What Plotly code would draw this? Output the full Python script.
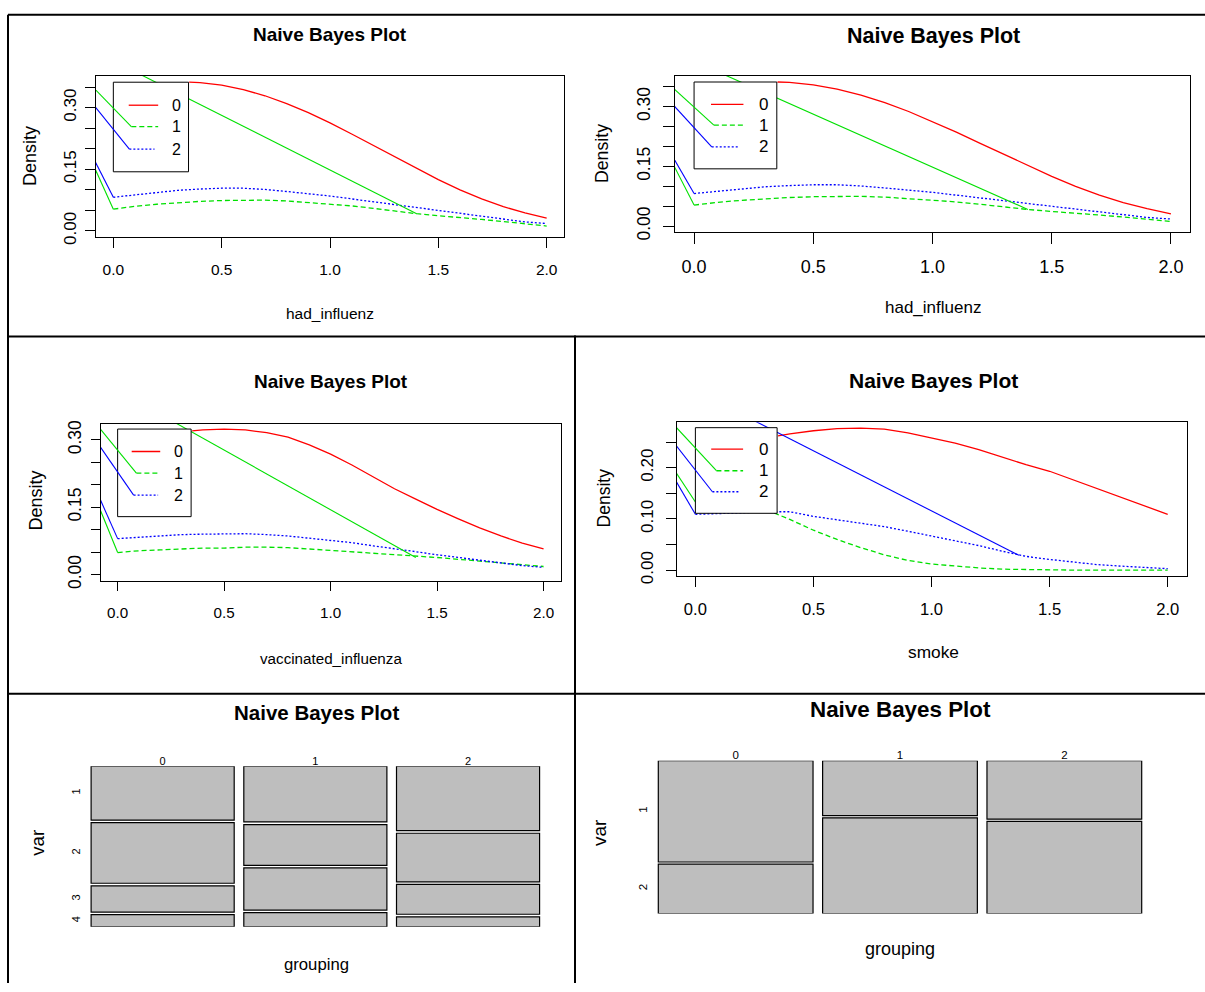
import plotly.graph_objects as go

W, H = 1205, 992
FONT = "Liberation Sans, Arial, Helvetica, sans-serif"

# ---------------- data ----------------
class_labels = ["0", "1", "2"]
class_colors = ["#FF0000", "#00E000", "#0000FF"]
class_dashes = ["solid", "5px,3px", "2px,2px"]

x_ticks = [0.0, 0.5, 1.0, 1.5, 2.0]
x_tick_text = ["0.0", "0.5", "1.0", "1.5", "2.0"]

# x positions where the class-0 curve is visible (right of the legend)
x_red = [0.35, 0.4, 0.5, 0.6, 0.7, 0.8, 0.9, 1.0, 1.1, 1.2, 1.3, 1.4, 1.5, 1.6, 1.7, 1.8, 1.9, 2.0]
# x positions of class-1 / class-2 curves
x_grid = [0.0, 0.1, 0.2, 0.3, 0.4, 0.5, 0.6, 0.7, 0.8, 0.9, 1.0,
          1.1, 1.2, 1.3, 1.4, 1.5, 1.6, 1.7, 1.8, 1.9, 2.0]

# had_influenz densities
infl_red = [0.362, 0.361, 0.355, 0.344, 0.329, 0.310, 0.288, 0.263, 0.236, 0.208,
            0.180, 0.152, 0.125, 0.100, 0.078, 0.059, 0.044, 0.031]
infl_green = [0.053, 0.060, 0.065, 0.069, 0.072, 0.074, 0.075, 0.075, 0.073, 0.069, 0.066,
              0.061, 0.055, 0.048, 0.042, 0.037, 0.033, 0.028, 0.023, 0.018, 0.012]
infl_blue = [0.082, 0.088, 0.094, 0.099, 0.102, 0.104, 0.104, 0.101, 0.096, 0.091, 0.085,
             0.078, 0.071, 0.064, 0.057, 0.049, 0.042, 0.035, 0.028, 0.022, 0.018]

# vaccinated_influenza densities
vacc_red = [0.320, 0.322, 0.324, 0.322, 0.316, 0.306, 0.289, 0.268, 0.244, 0.218,
            0.191, 0.168, 0.145, 0.124, 0.104, 0.086, 0.070, 0.057]
vacc_green = [0.049, 0.053, 0.055, 0.057, 0.059, 0.059, 0.061, 0.061, 0.060, 0.057, 0.054,
              0.051, 0.048, 0.045, 0.042, 0.038, 0.034, 0.030, 0.026, 0.022, 0.018]
vacc_blue = [0.080, 0.083, 0.086, 0.089, 0.090, 0.091, 0.091, 0.089, 0.086, 0.081, 0.076,
             0.071, 0.064, 0.058, 0.051, 0.044, 0.038, 0.031, 0.025, 0.020, 0.016]

# smoke densities
smoke_red = [0.262, 0.266, 0.272, 0.276, 0.277, 0.275, 0.268, 0.258, 0.248, 0.235,
             0.220, 0.206, 0.193, 0.176, 0.159, 0.142, 0.125, 0.109]
smoke_green = [0.133, 0.132, 0.128, 0.118, 0.099, 0.078, 0.060, 0.044, 0.030, 0.019, 0.012,
               0.008, 0.0045, 0.002, 0.001, 0.0005, 0.0002, 0.0, 0.0, 0.0, 0.0]
smoke_blue = [0.109, 0.110, 0.112, 0.114, 0.114, 0.105, 0.098, 0.092, 0.085, 0.076, 0.067,
              0.057, 0.048, 0.037, 0.027, 0.021, 0.016, 0.011, 0.008, 0.005, 0.003]

# stray solid connector lines drawn under the legend box (x pairs, y pairs, class index)
infl_links_under = [([-0.09, 0.0], [0.158, 0.053], 1), ([0.0, 1.40], [0.414, 0.042], 1),
                    ([-0.09, 0.0], [0.175, 0.082], 2)]
vacc_links_under = [([-0.09, 0.0], [0.154, 0.049], 1), ([0.0, 1.40], [0.410, 0.038], 1),
                    ([-0.09, 0.0], [0.176, 0.080], 2)]
smoke_links_under = [([-0.09, 0.0], [0.196, 0.133], 1), ([-0.09, 0.0], [0.180, 0.109], 2),
                     ([0.0, 1.37], [0.350, 0.029], 2)]
# stray solid lines ending at the legend keys (start point, class index)
infl_links_over = [((-0.09, 0.348), 1), ((-0.09, 0.306), 2)]
vacc_links_over = [((-0.09, 0.329), 1), ((-0.09, 0.290), 2)]
smoke_links_over = [((-0.09, 0.283), 1), ((-0.09, 0.248), 2)]

# mosaic plots: share of each level within each group
mosA_levels = ["1", "2", "3", "4"]
mosA_g0 = [0.353, 0.396, 0.172, 0.079]
mosA_g1 = [0.365, 0.267, 0.276, 0.092]
mosA_g2 = [0.422, 0.318, 0.195, 0.065]
mosB_levels = ["1", "2"]
mosB_g0 = [0.672, 0.328]
mosB_g1 = [0.365, 0.635]
mosB_g2 = [0.388, 0.612]

# ---------------- helpers ----------------
fig = go.Figure()
annotations = []


def ids(i):
    return ("x" if i == 1 else f"x{i}", "y" if i == 1 else f"y{i}")


def keys(i):
    return ("xaxis" if i == 1 else f"xaxis{i}", "yaxis" if i == 1 else f"yaxis{i}")


def text(xp, yp, s, size, bold=False, angle=0):
    annotations.append(dict(
        x=xp / W, y=1 - yp / H, xref="paper", yref="paper", text=f"<b>{s}</b>" if bold else s,
        showarrow=False, xanchor="center", yanchor="middle", textangle=angle,
        font=dict(family=FONT, size=size, color="black")))


def line_trace(i, xs, ys, color, dash="solid", width=1.3):
    xa, ya = ids(i)
    fig.add_trace(go.Scatter(x=xs, y=ys, mode="lines", xaxis=xa, yaxis=ya,
                             line=dict(color=color, width=width, dash=dash),
                             showlegend=False, hoverinfo="skip"))


def density_panel(i, st, curves, under, over, leg, ytv, ytt):
    xa, ya = ids(i)
    kx, ky = keys(i)
    red, green, blue = curves
    line_trace(i, x_red, red, class_colors[0], class_dashes[0])
    line_trace(i, x_grid, green, class_colors[1], class_dashes[1])
    line_trace(i, x_grid, blue, class_colors[2], class_dashes[2])
    for xs, ys, c in under:
        line_trace(i, xs, ys, class_colors[c], "solid", 1.1)
    # legend box
    x0, x1, y0, y1 = leg["box"]
    fig.add_trace(go.Scatter(x=[x0, x1, x1, x0, x0], y=[y0, y0, y1, y1, y0], mode="lines",
                             fill="toself", fillcolor="white", xaxis=xa, yaxis=ya,
                             line=dict(color="black", width=1), showlegend=False, hoverinfo="skip"))
    for k in range(3):
        line_trace(i, [leg["sx0"][k], leg["sx1"][k]], [leg["sy"][k]] * 2,
                   class_colors[k], class_dashes[k], 1.3)
        annotations.append(dict(x=leg["lx"], y=leg["sy"][k], xref=xa, yref=ya, text=class_labels[k],
                                showarrow=False, xanchor="center", yanchor="middle",
                                font=dict(family=FONT, size=st["leg"], color="black")))
    for (sx, sy), c in over:
        line_trace(i, [sx, leg["sx0"][c]], [sy, leg["sy"][c]], class_colors[c], "solid", 1.1)

    bx0, bx1, by0, by1 = st["box"]
    fig.layout[kx] = dict(
        domain=[bx0 / W, bx1 / W], range=st["xr"], anchor=ya, showgrid=False, zeroline=False,
        showline=True, mirror=True, linecolor="black", linewidth=1,
        ticks="outside", ticklen=st["tl"], tickwidth=1, tickcolor="black",
        tickmode="array", tickvals=x_ticks, ticktext=x_tick_text,
        tickfont=dict(family=FONT, size=st["xt"], color="black"), ticklabelstandoff=st["xso"])
    fig.layout[ky] = dict(
        domain=[1 - by1 / H, 1 - by0 / H], range=st["yr"], anchor=xa, showgrid=False, zeroline=False,
        showline=True, mirror=True, linecolor="black", linewidth=1,
        ticks="outside", ticklen=st["tl"], tickwidth=1, tickcolor="black",
        tickmode="array", tickvals=ytv, ticktext=ytt, tickangle=-90,
        tickfont=dict(family=FONT, size=st["yt"], color="black"), ticklabelstandoff=st["yso"])
    text(*st["title"], "Naive Bayes Plot", st["tf"], bold=True)
    text(*st["xlab_pos"], st["xlab"], st["xf"])
    text(*st["dens_pos"], "Density", st["df"], angle=-90)


def mosaic_panel(i, st, groups, levels):
    xa, ya = ids(i)
    kx, ky = keys(i)
    n = len(levels)
    gap = st["gap"]
    avail = 1 - gap * (n - 1)
    centers0 = []
    for g, props in enumerate(groups):
        bases, heights = [], []
        b = 0.0
        for p in props:
            bases.append(b)
            heights.append(p * avail)
            b += p * avail + gap
        if g == 0:
            centers0 = [bb + hh / 2 for bb, hh in zip(bases, heights)]
        fig.add_trace(go.Bar(x=[g] * n, y=heights, base=bases, width=st["bw"], xaxis=xa, yaxis=ya,
                             marker=dict(color="#BEBEBE", line=dict(color="black", width=1.2)),
                             showlegend=False, hoverinfo="skip"))
    bx0, bx1, by0, by1 = st["box"]
    fig.layout[kx] = dict(
        domain=[bx0 / W, bx1 / W], range=[-0.5, len(groups) - 0.5], anchor=ya, side="top",
        showgrid=False, zeroline=False, showline=False, ticks="",
        tickmode="array", tickvals=list(range(len(groups))), ticktext=class_labels,
        tickfont=dict(family=FONT, size=st["lf"], color="black"), ticklabelstandoff=st["xso"])
    fig.layout[ky] = dict(
        domain=[1 - by1 / H, 1 - by0 / H], range=[1.0, 0.0], anchor=xa,
        showgrid=False, zeroline=False, showline=False, ticks="",
        tickmode="array", tickvals=centers0, ticktext=levels, tickangle=-90,
        tickfont=dict(family=FONT, size=st["lf"], color="black"), ticklabelstandoff=st["yso"])
    text(*st["title"], "Naive Bayes Plot", st["tf"], bold=True)
    text(*st["xlab_pos"], "grouping", st["xf"])
    text(*st["var_pos"], "var", st["vf"], angle=-90)


# ---------------- panels ----------------
yt_a = [0.0, 0.05, 0.10, 0.15, 0.20, 0.25, 0.30, 0.35]
yt_a_txt = ["0.00", "", "", "0.15", "", "", "0.30", ""]
yt_b = [0.0, 0.05, 0.10, 0.15, 0.20, 0.25]
yt_b_txt = ["0.00", "", "0.10", "", "0.20", ""]

leg_infl = dict(box=(0.0, 0.347, 0.144, 0.362), sx0=[0.071, 0.083, 0.074], sx1=[0.207, 0.207, 0.19],
                sy=[0.306, 0.254, 0.199], lx=0.29)
leg_vacc = dict(box=(0.0, 0.345, 0.129, 0.324), sx0=[0.066, 0.088, 0.075], sx1=[0.20, 0.20, 0.19],
                sy=[0.274, 0.226, 0.177], lx=0.287)
leg_smoke = dict(box=(0.0, 0.346, 0.111, 0.278), sx0=[0.067, 0.089, 0.072], sx1=[0.202, 0.202, 0.188],
                 sy=[0.236, 0.194, 0.153], lx=0.289)

density_panel(1, dict(box=(96, 564, 73, 236), xr=[-0.08, 2.08], yr=[-0.0145, 0.377], tl=10,
                      xt=15.5, yt=17, xso=8, yso=2, tf=19, xf=15.5, df=18, leg=16,
                      title=(330, 31), xlab="had_influenz", xlab_pos=(330, 314), dens_pos=(30, 154)),
              (infl_red, infl_green, infl_blue), infl_links_under, infl_links_over, leg_infl, yt_a, yt_a_txt)
density_panel(2, dict(box=(675, 1190, 73, 231), xr=[-0.08, 2.08], yr=[-0.0145, 0.377], tl=11,
                      xt=18, yt=17.5, xso=7, yso=6, tf=21.5, xf=17, df=17.7, leg=17,
                      title=(933, 32), xlab="had_influenz", xlab_pos=(933, 308), dens_pos=(602, 152)),
              (infl_red, infl_green, infl_blue), infl_links_under, infl_links_over, leg_infl, yt_a, yt_a_txt)
density_panel(3, dict(box=(100.6, 560.6, 425.7, 584.3), xr=[-0.08, 2.08], yr=[-0.0135, 0.335], tl=9,
                      xt=15.2, yt=17.5, xso=9, yso=3, tf=19, xf=15.2, df=18, leg=16,
                      title=(331, 383), xlab="vaccinated_influenza", xlab_pos=(331, 663), dens_pos=(36, 503)),
              (vacc_red, vacc_green, vacc_blue), vacc_links_under, vacc_links_over, leg_vacc, yt_a, yt_a_txt)
density_panel(4, dict(box=(676.5, 1186.6, 423.7, 579.7), xr=[-0.08, 2.08], yr=[-0.0115, 0.2888], tl=10,
                      xt=16.6, yt=17, xso=8, yso=6, tf=21, xf=17.3, df=17.5, leg=17,
                      title=(933, 382), xlab="smoke", xlab_pos=(933, 657), dens_pos=(604, 501)),
              (smoke_red, smoke_green, smoke_blue), smoke_links_under, smoke_links_over, leg_smoke, yt_b, yt_b_txt)

mosaic_panel(5, dict(box=(86.3, 544.4, 772.3, 935), gap=0.016, bw=0.937, lf=11, xso=-2, yso=3,
                     tf=20.5, xf=16.7, vf=18.7, title=(316, 718), xlab_pos=(316, 973), var_pos=(38, 850)),
             [mosA_g0, mosA_g1, mosA_g2], mosA_levels)
mosaic_panel(6, dict(box=(653.5, 1146.5, 766.7, 921.7), gap=0.014, bw=0.9416, lf=11.5, xso=-2, yso=3,
                     tf=22.4, xf=18, vf=19, title=(900, 715), xlab_pos=(900, 958), var_pos=(600, 840)),
             [mosB_g0, mosB_g1, mosB_g2], mosB_levels)

# ---------------- frame lines ----------------
def pline(x0, y0, x1, y1, w=2):
    return dict(type="line", xref="paper", yref="paper", x0=x0 / W, y0=1 - y0 / H, x1=x1 / W, y1=1 - y1 / H,
                line=dict(color="black", width=w))

shapes = [pline(8, 11, 1205, 11), pline(8, 11, 8, 992), pline(8, 337, 1205, 337),
          pline(575, 336, 575, 992), pline(8, 699, 1205, 699)]

fig.update_layout(width=W, height=H, margin=dict(l=0, r=0, t=0, b=0),
                  paper_bgcolor="white", plot_bgcolor="white", barmode="overlay",
                  showlegend=False, annotations=annotations, shapes=shapes,
                  font=dict(family=FONT, color="black"))

post = (
    "document.documentElement.style.margin='0';document.documentElement.style.padding='0';"
    "document.documentElement.style.overflow='hidden';"
    "document.body.style.margin='0';document.body.style.padding='0';document.body.style.overflow='hidden';"
    "document.body.style.height='" + str(H) + "px';"
    "var d=document.getElementById('{plot_id}');"
    "d.style.position='fixed';d.style.left='0px';d.style.top='0px';"
)
fig.write_html("out.html", config={"displayModeBar": False}, post_script=post)
